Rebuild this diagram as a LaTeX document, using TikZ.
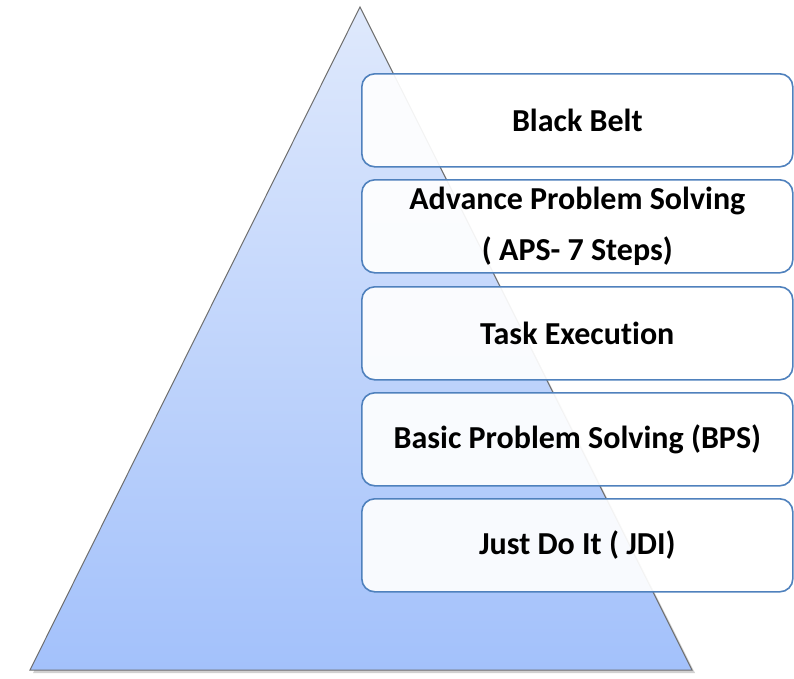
\documentclass[tikz,border=0pt]{standalone}
\usepackage{fontspec}
\setmainfont[Ligatures=NoCommon]{Carlito}
\usetikzlibrary{positioning}
\definecolor{edgegray}{HTML}{6E6E6E}
\definecolor{pyrtop}{HTML}{DFE9FC}
\definecolor{pyrbot}{HTML}{A3C1FB}
\definecolor{boxblue}{HTML}{4F81BD}
\tikzset{
  levelbox/.style={draw=boxblue, line width=1.6pt, rounded corners=13pt,
    fill=white, fill opacity=0.92, text opacity=1,
    minimum width=431pt, minimum height=93pt, anchor=north west,
    align=center, font=\fontsize{32}{51}\selectfont\bfseries, inner sep=0pt},
}
\begin{document}
\begin{tikzpicture}[x=1pt,y=-1pt]
  \useasboundingbox (0,0) rectangle (794,678);
  % pyramid shadow and body
  \fill[black, opacity=0.18] (362,10) -- (695,673) -- (33,673) -- cycle;
  \path[top color=pyrtop, bottom color=pyrbot, draw=edgegray, line width=1pt]
    (360,7) coordinate (apex) -- (692,670) coordinate (br) -- (30,670) coordinate (bl) -- cycle;
  % level boxes, top to bottom
  \node[levelbox] (bb)  at (361,73)  {Black Belt};
  \node[levelbox] (aps) at (361,179) {Advance Problem Solving\\( APS- 7 Steps)};
  \node[levelbox] (te)  at (361,286) {Task Execution};
  \node[levelbox] (bps) at (361,392) {Basic Problem Solving (BPS)};
  \node[levelbox] (jdi) at (361,498) {Just Do It ( JDI)};
\end{tikzpicture}
\end{document}
